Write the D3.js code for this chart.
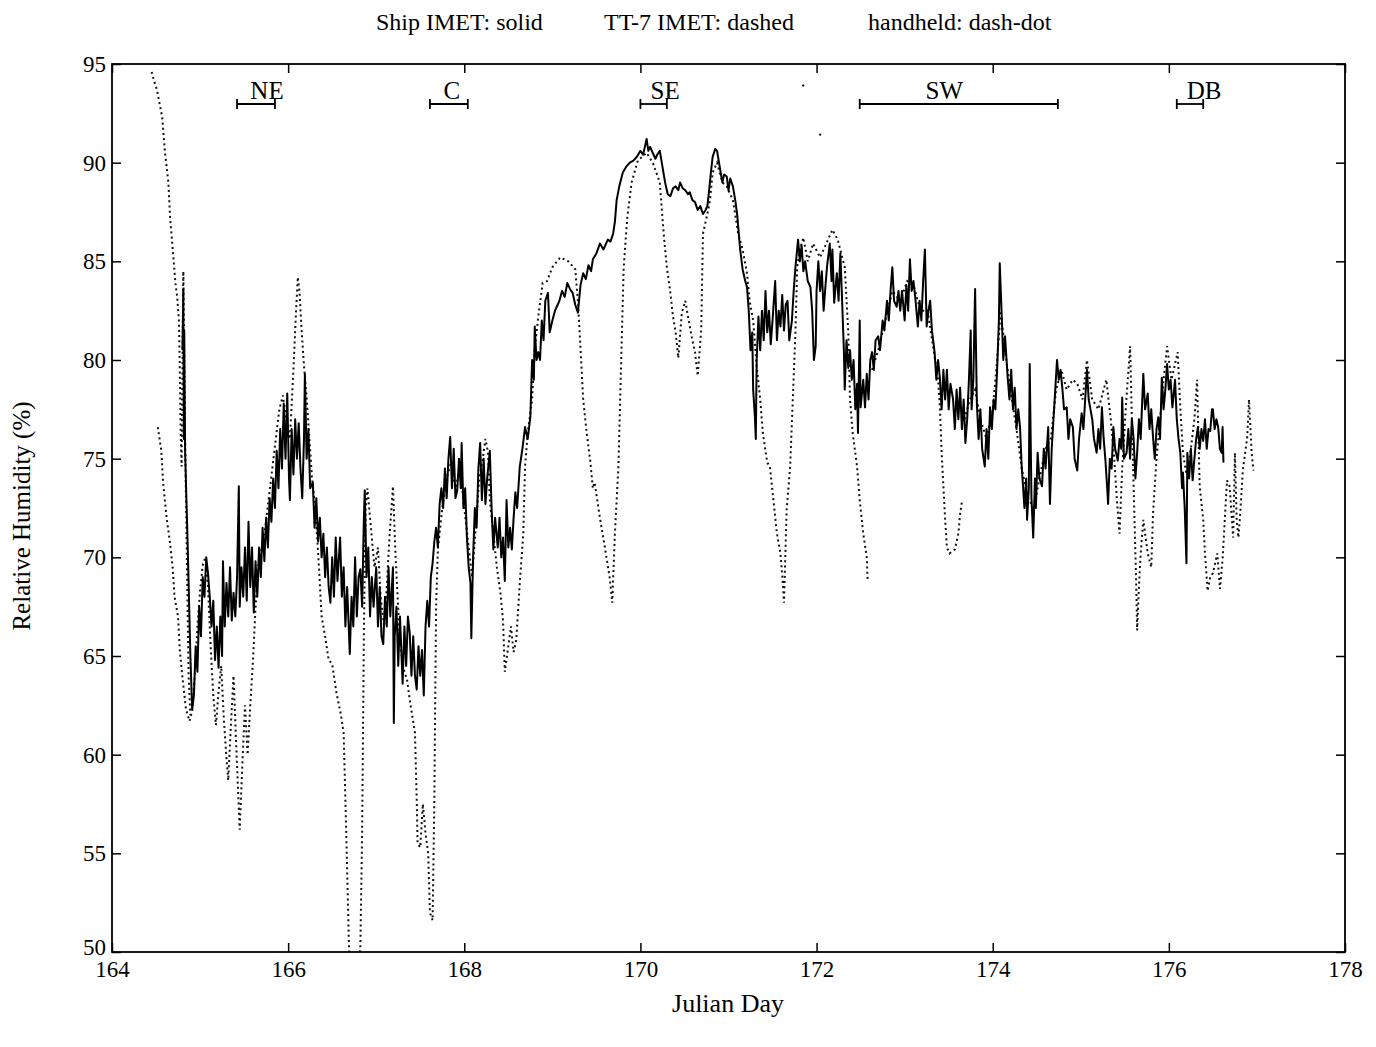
<!DOCTYPE html>
<html>
<head>
<meta charset="utf-8">
<script src="https://cdn.jsdelivr.net/npm/d3@7"></script>
<style>
  body { margin: 0; background: #fff; }
  text { font-family: "Liberation Serif", "DejaVu Serif", serif; fill: #000; }
</style>
</head>
<body>
<script>
// x = Julian day, y = relative humidity (%)
var xTicks = [164, 166, 168, 170, 172, 174, 176, 178];
var yTicks = [50, 55, 60, 65, 70, 75, 80, 85, 90, 95];

// region bars along the top
var regionNames = ["NE", "C", "SE", "SW", "DB"];
var regionStart = [165.42, 167.61, 170.00, 172.49, 176.09];
var regionEnd   = [165.85, 168.04, 170.30, 174.74, 176.39];
var regionLabel = [165.76, 167.86, 170.28, 173.45, 176.40];

// legend pieces of the title line
var titleParts = ["Ship IMET: solid", "TT-7 IMET: dashed", "handheld: dash-dot"];

// Ship IMET (solid)
var shipImet = [
  [164.80,80.5],[164.81,83.6],[164.815,76.0],[164.82,81.5],[164.83,75.4],[164.86,70.5],[164.89,65.0],[164.91,62.3],
  [164.93,63.0],[164.95,65.5],[164.97,64.2],[164.99,67.5],[165.01,66.0],[165.03,69.0],[165.05,68.0],[165.07,70.0],
  [165.09,69.2],[165.11,68.0],[165.13,66.5],[165.15,67.8],[165.17,64.8],[165.19,66.5],[165.21,64.4],[165.23,67.0],
  [165.25,65.0],[165.26,69.8],[165.28,66.5],[165.30,68.7],[165.32,67.0],[165.34,69.5],[165.36,66.8],[165.38,68.2],
  [165.40,67.0],[165.42,69.0],[165.44,73.6],[165.45,67.5],[165.47,69.5],[165.49,68.0],[165.51,70.5],[165.53,67.8],
  [165.55,71.8],[165.57,68.5],[165.59,70.5],[165.61,67.2],[165.63,69.8],[165.65,68.0],[165.67,70.5],[165.69,69.0],
  [165.71,71.5],[165.73,69.8],[165.75,72.0],[165.77,70.5],[165.79,73.0],[165.81,71.8],[165.83,74.0],[165.85,72.5],
  [165.87,75.4],[165.89,73.5],[165.91,76.5],[165.93,74.5],[165.95,77.8],[165.97,75.0],[165.99,78.3],[166.01,74.0],
  [166.02,72.9],[166.04,76.5],[166.06,74.2],[166.08,77.0],[166.10,75.0],[166.12,76.8],[166.14,74.5],[166.16,73.0],
  [166.18,76.0],[166.19,79.3],[166.21,75.0],[166.23,76.5],[166.25,73.5],[166.28,73.8],[166.30,71.5],[166.32,73.0],
  [166.34,70.8],[166.36,72.0],[166.38,70.0],[166.40,71.2],[166.42,69.0],[166.44,70.5],[166.46,68.5],[166.48,67.7],
  [166.50,70.0],[166.52,68.0],[166.54,71.0],[166.56,68.8],[166.59,71.0],[166.61,68.0],[166.63,69.5],[166.65,66.5],
  [166.67,68.5],[166.70,65.1],[166.72,68.0],[166.74,66.5],[166.76,70.0],[166.78,67.0],[166.80,69.0],[166.82,69.4],
  [166.84,67.5],[166.86,72.0],[166.87,73.4],[166.89,69.0],[166.91,70.5],[166.93,67.0],[166.95,69.0],[166.97,67.5],
  [167.00,69.5],[167.02,66.5],[167.04,68.5],[167.06,66.0],[167.08,65.6],[167.10,68.0],[167.12,66.5],[167.14,69.5],
  [167.16,67.0],[167.19,69.5],[167.20,61.6],[167.21,66.0],[167.23,67.5],[167.25,64.5],[167.27,67.0],[167.30,63.6],
  [167.32,66.5],[167.34,64.5],[167.36,67.0],[167.38,66.2],[167.40,64.0],[167.42,66.0],[167.44,64.0],[167.46,63.3],
  [167.48,65.5],[167.50,64.0],[167.52,65.3],[167.54,63.0],[167.56,66.5],[167.58,67.8],[167.60,66.5],[167.62,69.0],
  [167.64,69.7],[167.66,70.8],[167.68,71.5],[167.70,70.5],[167.72,72.7],[167.74,73.5],[167.76,72.5],[167.78,74.5],
  [167.80,73.0],[167.82,75.0],[167.84,76.1],[167.86,73.5],[167.88,75.5],[167.90,73.0],[167.92,73.4],[167.94,75.0],
  [167.96,73.5],[167.97,75.8],[167.99,72.5],[168.01,73.5],[168.03,71.0],[168.05,69.5],[168.07,68.7],[168.08,65.9],
  [168.10,70.0],[168.12,72.5],[168.14,71.5],[168.16,74.5],[168.18,75.8],[168.20,72.9],[168.22,75.0],[168.24,72.7],
  [168.26,74.0],[168.29,75.4],[168.31,72.5],[168.33,70.4],[168.35,72.0],[168.38,70.5],[168.40,72.0],[168.42,70.0],
  [168.44,71.0],[168.46,68.8],[168.48,72.9],[168.50,70.5],[168.52,71.5],[168.54,70.4],[168.56,72.0],[168.58,73.3],
  [168.60,72.5],[168.63,74.6],[168.66,75.5],[168.69,76.6],[168.72,76.0],[168.75,77.1],[168.77,80.0],[168.79,79.0],
  [168.80,81.7],[168.82,80.0],[168.84,80.4],[168.86,80.0],[168.88,82.0],[168.90,81.0],[168.92,83.0],[168.95,83.4],
  [168.97,81.4],[169.00,82.0],[169.03,82.5],[169.05,82.7],[169.08,83.0],[169.11,83.5],[169.14,83.2],[169.17,83.9],
  [169.20,83.6],[169.23,83.4],[169.26,82.8],[169.29,82.4],[169.32,83.8],[169.35,84.4],[169.38,84.1],[169.41,84.8],
  [169.44,84.5],[169.46,85.1],[169.50,85.4],[169.54,85.9],[169.58,85.6],[169.63,86.1],[169.66,86.0],[169.69,86.4],
  [169.71,87.0],[169.73,88.1],[169.76,88.8],[169.80,89.5],[169.84,89.8],[169.88,90.0],[169.92,90.1],[169.96,90.3],
  [170.00,90.6],[170.03,90.4],[170.05,90.8],[170.07,91.2],[170.09,90.6],[170.11,90.8],[170.14,90.5],[170.17,90.2],
  [170.19,90.4],[170.22,90.6],[170.25,89.8],[170.28,89.0],[170.31,88.4],[170.34,88.3],[170.37,88.7],[170.40,88.8],
  [170.43,88.6],[170.45,89.0],[170.48,88.7],[170.51,88.6],[170.54,88.4],[170.56,88.5],[170.59,88.1],[170.62,88.0],
  [170.65,87.6],[170.68,87.8],[170.71,87.4],[170.74,87.6],[170.76,87.8],[170.78,88.6],[170.80,89.5],[170.82,90.3],
  [170.85,90.7],[170.87,90.6],[170.90,89.8],[170.93,89.0],[170.95,89.4],[170.98,89.3],[171.00,88.6],[171.02,89.2],
  [171.05,88.8],[171.08,88.0],[171.10,87.3],[171.13,85.7],[171.16,84.6],[171.19,84.0],[171.21,83.7],[171.23,82.5],
  [171.25,80.5],[171.27,81.4],[171.28,78.5],[171.30,77.1],[171.31,76.0],[171.32,80.0],[171.34,82.2],[171.36,80.5],
  [171.38,82.5],[171.40,81.0],[171.42,83.5],[171.44,81.4],[171.46,82.5],[171.48,80.8],[171.50,82.0],[171.53,84.0],
  [171.55,81.0],[171.57,82.5],[171.59,81.7],[171.61,83.3],[171.63,81.5],[171.65,82.8],[171.67,83.0],[171.69,81.0],
  [171.72,82.0],[171.74,83.5],[171.76,84.7],[171.79,86.1],[171.81,85.0],[171.83,85.8],[171.85,84.5],[171.87,85.0],
  [171.90,84.0],[171.93,83.7],[171.95,82.5],[171.97,80.0],[171.99,80.7],[172.00,83.5],[172.02,85.0],[172.04,83.5],
  [172.06,84.5],[172.08,82.5],[172.10,83.7],[172.12,84.8],[172.15,85.9],[172.17,84.0],[172.18,85.6],[172.20,82.9],
  [172.23,84.4],[172.25,83.0],[172.27,85.4],[172.29,83.0],[172.31,80.5],[172.32,78.5],[172.34,81.0],[172.36,79.6],
  [172.38,80.5],[172.40,79.0],[172.42,80.0],[172.44,77.5],[172.46,78.8],[172.47,76.3],[172.49,82.0],[172.50,77.6],
  [172.53,79.0],[172.55,77.6],[172.57,79.3],[172.59,78.0],[172.61,80.0],[172.63,80.4],[172.65,79.5],[172.67,81.0],
  [172.70,81.2],[172.72,80.5],[172.75,82.0],[172.77,81.5],[172.80,83.0],[172.82,82.0],[172.84,83.5],[172.86,84.7],
  [172.88,83.0],[172.91,82.7],[172.93,83.5],[172.95,82.5],[172.97,83.5],[173.00,82.0],[173.02,83.8],[173.04,82.5],
  [173.06,85.1],[173.08,83.5],[173.10,84.0],[173.12,83.2],[173.15,81.7],[173.17,83.0],[173.19,82.0],[173.21,84.0],
  [173.23,85.6],[173.25,81.7],[173.27,82.5],[173.29,83.0],[173.31,81.5],[173.34,80.4],[173.36,79.0],[173.38,80.0],
  [173.40,79.1],[173.42,77.5],[173.44,79.5],[173.46,78.0],[173.48,79.5],[173.50,77.5],[173.52,78.8],[173.55,78.0],
  [173.57,76.5],[173.59,78.5],[173.61,77.0],[173.63,78.6],[173.65,76.5],[173.67,78.0],[173.69,75.8],[173.71,77.0],
  [173.73,79.0],[173.75,81.5],[173.76,77.5],[173.78,79.0],[173.80,83.6],[173.82,77.8],[173.84,76.0],[173.86,77.5],
  [173.88,75.5],[173.91,74.6],[173.93,76.5],[173.95,75.0],[173.97,77.6],[173.99,76.5],[174.01,78.0],[174.03,77.5],
  [174.05,79.5],[174.07,82.0],[174.08,84.9],[174.10,82.5],[174.12,80.0],[174.14,81.2],[174.17,79.1],[174.19,78.0],
  [174.21,79.5],[174.23,77.5],[174.25,78.6],[174.27,76.5],[174.29,77.5],[174.31,76.6],[174.33,74.5],[174.34,73.9],
  [174.36,72.5],[174.38,74.0],[174.39,71.9],[174.41,73.5],[174.42,79.8],[174.44,73.0],[174.46,71.0],[174.48,74.0],
  [174.49,72.5],[174.51,75.3],[174.53,74.0],[174.56,73.6],[174.58,75.5],[174.60,74.5],[174.63,76.6],[174.65,72.7],
  [174.67,75.5],[174.69,77.0],[174.71,78.5],[174.73,80.0],[174.75,79.0],[174.77,79.5],[174.79,78.6],[174.81,77.5],
  [174.84,77.6],[174.86,76.0],[174.88,77.0],[174.91,76.6],[174.93,75.0],[174.96,74.4],[174.98,76.0],[175.01,77.3],
  [175.03,76.5],[175.05,78.0],[175.07,79.5],[175.09,78.0],[175.11,77.5],[175.13,77.0],[175.15,76.0],[175.18,75.3],
  [175.20,76.5],[175.22,75.5],[175.24,77.6],[175.26,76.0],[175.28,74.9],[175.30,73.5],[175.31,72.7],[175.33,75.0],
  [175.35,74.5],[175.37,76.6],[175.39,75.5],[175.42,74.9],[175.44,76.0],[175.46,75.5],[175.47,78.1],[175.49,75.0],
  [175.52,75.3],[175.54,76.5],[175.56,75.0],[175.58,77.0],[175.60,76.0],[175.62,74.0],[175.64,75.3],[175.66,77.0],
  [175.68,76.0],[175.71,79.3],[175.73,77.5],[175.76,78.3],[175.78,76.5],[175.80,77.5],[175.82,76.1],[175.84,75.0],
  [175.86,76.5],[175.88,77.1],[175.90,76.0],[175.92,79.1],[175.94,77.5],[175.96,78.5],[175.98,79.8],[176.00,78.5],
  [176.02,79.0],[176.04,77.6],[176.06,78.5],[176.07,79.0],[176.09,77.0],[176.11,76.0],[176.13,75.3],[176.15,73.5],
  [176.16,74.3],[176.18,72.5],[176.20,69.7],[176.21,75.3],[176.23,74.0],[176.25,75.5],[176.27,73.9],[176.29,75.0],
  [176.31,76.0],[176.33,76.6],[176.35,75.5],[176.37,76.5],[176.39,75.9],[176.41,77.0],[176.43,75.5],[176.45,76.5],
  [176.47,76.4],[176.49,77.5],[176.50,77.5],[176.52,76.5],[176.54,77.0],[176.56,76.6],[176.58,75.5],[176.60,75.3],
  [176.61,76.6],[176.62,74.8]
];

// TT-7 IMET (dashed); null = gap in the record
var tt7Imet = [
  [164.52,76.6],[164.56,75.4],[164.58,73.8],[164.62,72.0],[164.66,70.7],[164.69,69.4],[164.71,68.0],[164.75,67.0],
  [164.77,65.3],[164.80,63.9],[164.84,62.3],[164.88,61.7],[164.91,62.2],[164.94,64.0],[164.97,66.5],[165.00,68.3],
  [165.03,69.6],[165.06,70.0],[165.09,68.5],[165.12,65.5],[165.15,63.0],[165.18,61.5],[165.21,63.2],[165.24,64.5],
  [165.27,61.8],[165.30,59.8],[165.32,58.7],[165.35,61.5],[165.38,64.0],[165.41,60.5],[165.45,56.2],[165.48,59.5],
  [165.51,62.5],[165.54,60.0],[165.57,62.5],[165.60,64.7],[165.63,67.5],[165.66,69.5],[165.70,70.5],[165.74,71.5],
  [165.78,73.0],[165.82,74.5],[165.86,76.0],[165.90,77.5],[165.94,78.2],[165.98,77.0],[166.02,76.0],[166.06,79.5],
  [166.09,82.5],[166.11,84.2],[166.13,83.4],[166.15,81.7],[166.18,79.7],[166.21,78.1],[166.24,76.1],[166.27,74.1],
  [166.31,72.4],[166.35,69.5],[166.38,67.0],[166.42,66.0],[166.46,64.8],[166.50,64.6],[166.55,63.1],[166.60,62.0],
  [166.63,61.1],[166.66,56.0],[166.69,50.4],[166.72,47.0],[166.77,46.5],[166.82,50.3],[166.84,56.0],[166.85,61.1],
  [166.86,66.2],[166.87,69.5],[166.88,72.4],[166.90,73.5],[166.94,71.5],[166.98,69.5],[167.02,70.5],[167.05,68.0],
  [167.09,66.5],[167.12,68.5],[167.15,71.0],[167.19,73.6],[167.22,70.0],[167.26,66.5],[167.30,64.5],[167.35,63.8],
  [167.38,62.8],[167.44,61.1],[167.46,57.7],[167.47,55.5],[167.50,55.3],[167.53,57.5],[167.56,56.0],[167.59,55.0],
  [167.61,52.0],[167.64,51.6],[167.66,57.7],[167.67,62.8],[167.68,67.5],[167.70,70.4],[167.75,72.5],[167.80,74.0],
  [167.85,74.8],[167.90,73.5],[167.95,74.5],[168.00,72.5],[168.05,70.5],[168.09,69.0],[168.13,71.5],[168.17,74.0],
  [168.21,75.0],[168.24,76.0],[168.27,75.3],[168.29,72.9],[168.33,71.2],[168.37,69.5],[168.41,68.2],[168.44,66.8],
  [168.46,64.2],[168.50,65.5],[168.53,66.5],[168.56,65.2],[168.59,65.8],[168.63,68.7],[168.67,71.2],[168.69,74.6],
  [168.72,76.3],[168.77,78.0],[168.80,80.5],[168.84,82.2],[168.89,83.9],[168.94,84.0],[169.00,84.7],[169.09,85.2],
  [169.18,85.0],[169.26,84.6],[169.29,83.0],[169.31,81.4],[169.35,78.0],[169.39,76.3],[169.43,74.9],[169.46,73.5],
  [169.48,73.8],[169.54,72.0],[169.60,70.4],[169.65,69.0],[169.68,67.7],[169.71,71.2],[169.75,74.6],[169.77,78.0],
  [169.79,81.4],[169.81,84.7],[169.85,87.2],[169.90,89.0],[169.97,90.1],[170.07,90.5],[170.14,90.0],[170.22,89.0],
  [170.25,87.2],[170.27,86.1],[170.30,84.7],[170.34,83.4],[170.37,82.2],[170.40,81.4],[170.43,80.1],[170.47,82.4],
  [170.51,83.0],[170.54,82.2],[170.59,81.0],[170.62,80.4],[170.65,79.2],[170.69,81.5],[170.71,86.4],[170.76,87.4],
  [170.79,88.1],[170.82,89.5],[170.87,90.0],[170.93,89.0],[170.98,88.8],[171.05,88.1],[171.11,86.4],[171.16,85.6],
  [171.21,84.4],[171.24,83.0],[171.28,82.0],[171.32,79.7],[171.36,78.0],[171.39,76.3],[171.44,74.8],[171.47,74.6],
  [171.51,72.9],[171.55,71.2],[171.59,70.2],[171.62,68.5],[171.63,67.7],[171.66,72.4],[171.70,74.6],[171.73,78.0],
  [171.76,81.4],[171.78,84.7],[171.81,85.6],[171.85,86.2],[171.90,85.0],[171.96,85.9],[172.04,85.2],[172.10,85.8],
  [172.18,86.6],[172.24,86.1],[172.32,84.7],[172.36,81.4],[172.38,78.0],[172.41,76.3],[172.46,74.6],[172.49,72.9],
  [172.53,71.2],[172.57,70.0],[172.58,68.8],[172.60,null],
  [172.63,79.5],[172.70,80.5],[172.78,82.0],[172.86,83.5],[172.95,83.0],[173.03,84.0],[173.10,83.8],[173.18,82.5],
  [173.26,82.5],[173.33,80.5],[173.38,79.0],[173.40,77.6],[173.42,75.3],[173.44,73.6],[173.46,71.9],[173.48,70.5],
  [173.51,70.2],[173.57,70.4],[173.61,71.2],[173.63,72.2],[173.65,72.8],[173.66,null],
  [173.68,77.0],[173.74,78.0],[173.80,78.5],[173.86,77.0],[173.93,76.0],[174.00,77.5],[174.05,80.0],[174.09,82.5],
  [174.14,80.5],[174.20,78.5],[174.27,76.5],[174.33,74.5],[174.40,73.0],[174.47,72.5],[174.53,74.0],[174.60,75.5],
  [174.66,76.0],[174.72,78.5],[174.78,79.5],[174.84,78.5],[174.91,79.0],[174.96,78.8],[175.02,78.0],[175.07,80.0],
  [175.13,78.0],[175.20,77.5],[175.26,78.5],[175.29,79.0],[175.34,77.0],[175.38,75.0],[175.41,72.9],[175.44,71.2],
  [175.47,74.5],[175.51,77.5],[175.56,80.7],[175.58,77.0],[175.60,73.6],[175.62,70.2],[175.63,68.5],[175.64,66.3],
  [175.66,68.5],[175.68,70.2],[175.71,71.9],[175.76,70.2],[175.80,69.5],[175.82,72.2],[175.86,75.0],[175.90,77.0],
  [175.94,79.0],[175.98,80.7],[176.03,79.0],[176.07,79.8],[176.10,80.4],[176.13,77.6],[176.16,75.3],[176.20,74.2],
  [176.25,75.5],[176.29,77.0],[176.32,79.0],[176.35,73.6],[176.39,71.9],[176.41,70.2],[176.44,68.3],[176.47,69.0],
  [176.50,69.2],[176.55,70.2],[176.58,68.4],[176.61,69.9],[176.66,73.9],[176.69,73.6],[176.73,71.0],[176.75,75.3],
  [176.77,71.9],[176.79,71.0],[176.81,72.2],[176.84,74.4],[176.89,76.1],[176.91,78.0],[176.94,75.3],[176.96,74.4]
];

// handheld (dash-dot)
var handheld = [
  [164.45,94.6],[164.48,94.1],[164.51,93.7],[164.54,93.0],[164.57,92.3],[164.60,90.6],[164.62,89.8],[164.64,89.0],
  [164.66,87.2],[164.69,85.6],[164.72,83.9],[164.74,83.2],[164.76,82.0],[164.77,79.5],[164.78,76.3],[164.79,74.6],
  [164.81,84.5],[164.83,76.0],[164.85,70.0],[164.87,64.0],[164.89,62.0],[164.90,null],
  [171.84,93.95],[171.86,93.85],[171.87,null],
  [172.03,91.45],[172.05,91.40]
];

var width = 1376, height = 1047;
var mLeft = 112, mRight = 1345, mTop = 64, mBottom = 952;

var svg = d3.select("body").append("svg")
  .attr("width", width)
  .attr("height", height);

var x = d3.scaleLinear().domain([164, 178]).range([mLeft, mRight]);
var y = d3.scaleLinear().domain([50, 95]).range([mBottom, mTop]);

svg.append("defs").append("clipPath").attr("id", "plotclip")
  .append("rect")
  .attr("x", mLeft).attr("y", mTop)
  .attr("width", mRight - mLeft).attr("height", mBottom - mTop);

var line = d3.line()
  .defined(function(d) { return d[1] != null; })
  .x(function(d) { return x(d[0]); })
  .y(function(d) { return y(d[1]); });

var plot = svg.append("g").attr("clip-path", "url(#plotclip)");

plot.append("path")
  .datum(tt7Imet)
  .attr("d", line)
  .attr("fill", "none")
  .attr("stroke", "#111")
  .attr("stroke-width", 2)
  .attr("stroke-dasharray", "2,3.2");

plot.append("path")
  .datum(handheld)
  .attr("d", line)
  .attr("fill", "none")
  .attr("stroke", "#111")
  .attr("stroke-width", 2)
  .attr("stroke-dasharray", "2,3.2");

plot.append("path")
  .datum(shipImet)
  .attr("d", line)
  .attr("fill", "none")
  .attr("stroke", "#000")
  .attr("stroke-width", 2)
  .attr("stroke-linejoin", "round");

// axes: ticks point inward on all four sides
var tickFont = 23;
var gx = svg.append("g").attr("transform", "translate(0," + mBottom + ")")
  .call(d3.axisBottom(x).tickValues(xTicks).tickSizeInner(-9).tickSizeOuter(0).tickPadding(9));
var gxTop = svg.append("g").attr("transform", "translate(0," + mTop + ")")
  .call(d3.axisTop(x).tickValues(xTicks).tickSizeInner(-9).tickSizeOuter(0).tickFormat(""));
var gy = svg.append("g").attr("transform", "translate(" + mLeft + ",0)")
  .call(d3.axisLeft(y).tickValues(yTicks).tickSizeInner(-9).tickSizeOuter(0).tickPadding(6));
var gyRight = svg.append("g").attr("transform", "translate(" + mRight + ",0)")
  .call(d3.axisRight(y).tickValues(yTicks).tickSizeInner(-9).tickSizeOuter(0).tickFormat(""));

[gx, gxTop, gy, gyRight].forEach(function(g) {
  g.select(".domain").remove();
  g.selectAll("line").attr("stroke", "#000").attr("stroke-width", 1.5);
  g.selectAll("text")
    .attr("font-family", "Liberation Serif, serif")
    .attr("font-size", tickFont)
    .attr("fill", "#000");
});
// the lowest y label sits a little above its tick, as in the original
gy.selectAll(".tick text").filter(function(d) { return d === 50; }).attr("dy", "0.1em");

svg.append("rect")
  .attr("x", mLeft).attr("y", mTop)
  .attr("width", mRight - mLeft).attr("height", mBottom - mTop)
  .attr("fill", "none")
  .attr("stroke", "#000")
  .attr("stroke-width", 1.8);

// region bars
var regions = regionNames.map(function(n, i) {
  return {name: n, start: regionStart[i], end: regionEnd[i], label: regionLabel[i]};
});
var barY = 104;
var rg = svg.append("g").selectAll("g").data(regions).enter().append("g");
rg.append("line")
  .attr("x1", function(d) { return x(d.start); })
  .attr("x2", function(d) { return x(d.end); })
  .attr("y1", barY).attr("y2", barY)
  .attr("stroke", "#000").attr("stroke-width", 1.8);
rg.append("line")
  .attr("x1", function(d) { return x(d.start); })
  .attr("x2", function(d) { return x(d.start); })
  .attr("y1", barY - 5).attr("y2", barY + 5)
  .attr("stroke", "#000").attr("stroke-width", 1.8);
rg.append("line")
  .attr("x1", function(d) { return x(d.end); })
  .attr("x2", function(d) { return x(d.end); })
  .attr("y1", barY - 5).attr("y2", barY + 5)
  .attr("stroke", "#000").attr("stroke-width", 1.8);
rg.append("text")
  .attr("x", function(d) { return x(d.label); })
  .attr("y", 99)
  .attr("text-anchor", "middle")
  .attr("font-size", 25)
  .text(function(d) { return d.name; });

// title: three legend pieces
var titleX = [376, 604, 868];
svg.append("g").selectAll("text")
  .data(titleParts)
  .enter()
  .append("text")
  .attr("x", function(d, i) { return titleX[i]; })
  .attr("y", 30)
  .attr("font-size", 24)
  .text(function(d) { return d; });

svg.append("text")
  .attr("x", 728).attr("y", 1012)
  .attr("text-anchor", "middle")
  .attr("font-size", 26)
  .text("Julian Day");

svg.append("text")
  .attr("transform", "translate(30,516) rotate(-90)")
  .attr("text-anchor", "middle")
  .attr("font-size", 25)
  .text("Relative Humidity (%)");
</script>
</body>
</html>
